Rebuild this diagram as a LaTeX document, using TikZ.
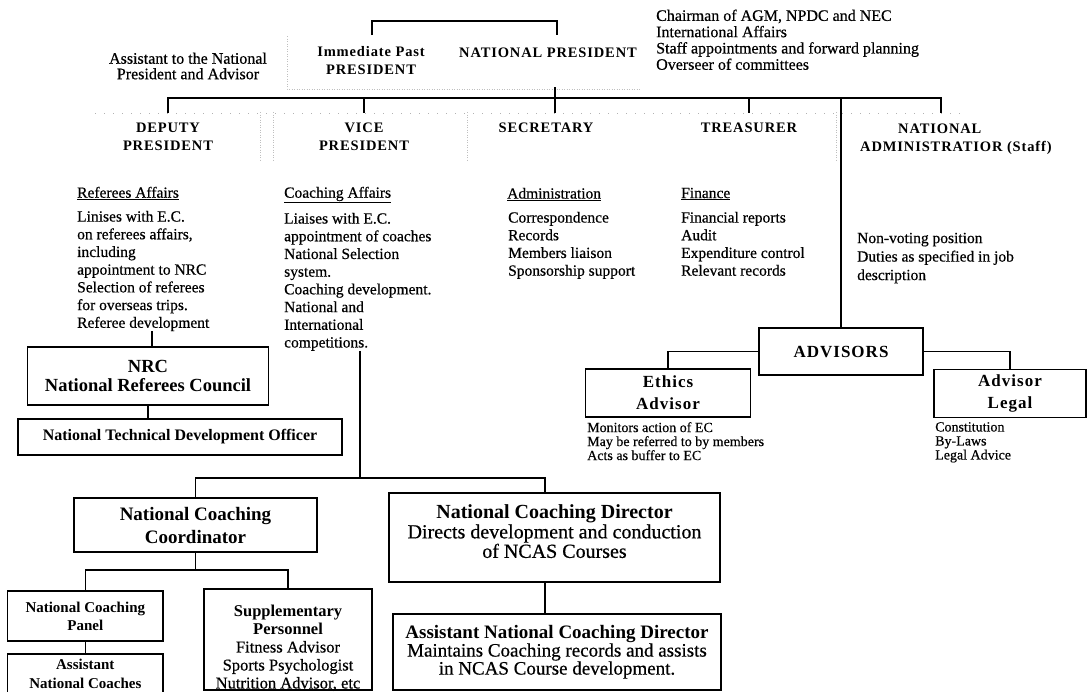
\documentclass[tikz,border=0pt]{standalone}
\usepackage{fontspec}
\setmainfont{Liberation Serif}[UprightFeatures={FakeBold=0.5}]
\newfontfamily\hdfont{Liberation Serif}[LetterSpace=6]
\begin{document}
\begin{tikzpicture}[x=1pt,y=-1pt,
  hd/.style={font=\hdfont\bfseries\fontsize{14.5}{18}\selectfont, align=center, inner sep=0pt},
  txt/.style={font=\fontsize{15.5}{17.7}\selectfont, align=left, inner sep=0pt, anchor=north west},
  box/.style={draw, line width=1.4pt, inner sep=0pt, align=center},
  boxhd/.style={font=\hdfont\bfseries\fontsize{17}{22}\selectfont},
  conn/.style={line width=1.2pt},
  heavy/.style={line width=2.4pt},
  faint/.style={draw=gray!50, line width=0.6pt, dash pattern=on 1pt off 1.5pt},
  sparse/.style={draw=gray!60, line width=0.6pt, dash pattern=on 1pt off 8pt},
]
\fill[white] (0,0) rectangle (1089,691);
\useasboundingbox (0,0) rectangle (1089,691);

% faint table gridlines of the scan
\draw[faint] (287,36) -- (287,89) -- (640,89);
\foreach \x in {260,273,467,836} \draw[faint] (\x,112) -- (\x,162);
\draw[sparse] (95,113) -- (960,113);

% top level
\node[txt, font=\fontsize{16}{15.5}\selectfont, anchor=center, align=center] (asst) at (188,66) {Assistant to the National\\President and Advisor};
\node[hd] (ipp) at (371,61) {Immediate Past\\PRESIDENT};
\node[hd] (np) at (548,53) {NATIONAL PRESIDENT};
\node[txt, font=\fontsize{16}{16.3}\selectfont] (npduty) at (656,9.4) {Chairman of AGM, NPDC and NEC\\International Affairs\\Staff appointments and forward planning\\Overseer of committees};

% executive row
\node[hd] (dp) at (168,137) {DEPUTY\\PRESIDENT};
\node[hd] (vp) at (364,137) {VICE\\PRESIDENT};
\node[hd] (sec) at (546,128) {SECRETARY};
\node[hd] (tre) at (749,128) {TREASURER};
\node[hd, anchor=north west, align=left] (na) at (860,123.2) {\hspace*{38pt}NATIONAL\\ADMINISTRATIOR (Staff)};

% duty lists
\node[txt] (dph) at (77,186.6) {\underline{Referees Affairs}};
\node[txt] (dpl) at (77,210.6) {Linises with E.C.\\on referees affairs,\\including\\appointment to NRC\\Selection of referees\\for overseas trips.\\Referee development};
\node[txt] (vph) at (284,186.6) {\underline{Coaching Affairs}};
\node[txt] (vpl) at (284,212.6) {Liaises with E.C.\\appointment of coaches\\National Selection\\system.\\Coaching development.\\National and\\International\\competitions.};
\node[txt] (sech) at (507,187.6) {\underline{Administration}};
\node[txt] (secl) at (508,211.6) {Correspondence\\Records\\Members liaison\\Sponsorship support};
\node[txt] (treh) at (681,187.6) {\underline{Finance}};
\node[txt] (trel) at (681,211.6) {Financial reports\\Audit\\Expenditure control\\Relevant records};
\node[txt, font=\fontsize{15.5}{18.5}\selectfont] (nal) at (857,232.6) {Non-voting position\\Duties as specified in job\\description};

% referees branch
\node[box, minimum width=241, minimum height=58, font=\bfseries\fontsize{18.5}{19.5}\selectfont] (nrc) at (148,376) {NRC\\National Referees Council};
\node[box, minimum width=324, minimum height=36, font=\bfseries\fontsize{16}{18}\selectfont] (ntdo) at (180,437) {National Technical Development Officer};

% coaching branch
\node[box, minimum width=243, minimum height=54, font=\bfseries\fontsize{19}{23}\selectfont] (ncc) at (195.5,525) {National Coaching\\Coordinator};
\node[box, minimum width=155.5, minimum height=50, font=\bfseries\fontsize{15}{18}\selectfont] (ncp) at (85.3,616) {National Coaching\\Panel};
\node[box, minimum width=155.5, minimum height=40, inner sep=0pt] (anc) at (85.3,674) {};
\node[font=\bfseries\fontsize{15}{19}\selectfont, align=center, inner sep=0pt] (anct) at (85.3,673.5) {Assistant\\National Coaches};
\node[box, minimum width=168, minimum height=101] (supp) at (288,639.5) {};
\node[font=\fontsize{16.5}{18}\selectfont, align=center, inner sep=0pt] (suppt) at (288,648) {\textbf{Supplementary}\\\textbf{Personnel}\\Fitness Advisor\\Sports Psychologist\\Nutrition Advisor, etc};
\node[box, minimum width=331, minimum height=89] (ncd) at (554.5,537.5) {};
\node[font=\fontsize{20}{19.5}\selectfont, align=center, inner sep=0pt] (ncdt) at (554.5,531.5) {\textbf{National Coaching Director}\\Directs development and conduction\\of NCAS Courses};
\node[box, minimum width=328, minimum height=76, font=\fontsize{19}{18}\selectfont] (ancd) at (557,652) {\textbf{Assistant National Coaching Director}\\Maintains Coaching records and assists\\in NCAS Course development.};

% advisors
\node[box, boxhd, minimum width=164, minimum height=47] (adv) at (841,351.5) {ADVISORS};
\node[box, boxhd, minimum width=165, minimum height=48] (eth) at (668,393) {Ethics\\Advisor};
\node[box, boxhd, minimum width=152, minimum height=48] (legal) at (1010,393.5) {Advisor\\Legal};
\node[txt, font=\fontsize{14}{14}\selectfont] (ethl) at (587,422) {Monitors action of EC\\May be referred to by members\\Acts as buffer to EC};
\node[txt, font=\fontsize{14}{14}\selectfont] (legl) at (935,422) {Constitution\\By-Laws\\Legal Advice};

% junction coordinates
\coordinate (brL) at (372,35);
\coordinate (brR) at (557,35);
\coordinate (npdrop) at (555,87);
\coordinate (bus) at (0,98);
\coordinate (natick) at (941,113);
\coordinate (dpdrop) at (152,0);
\coordinate (vpdrop) at (360,0);
\coordinate (b2) at (545,478);
\coordinate (b3) at (0,570);

% connectors
\draw[conn] (brL) -- ++(0,-14) -| (brR);
\draw[conn] (npdrop) -- (npdrop |- natick);
\draw[conn] ([yshift=10pt]dp.north) -- (dp.north |- bus) -- (bus -| natick) -- (natick);
\draw[conn] (vp.north |- bus) -- ([yshift=10pt]vp.north);
\draw[conn] (tre.north |- bus) -- ([yshift=10pt]tre.north);
\draw[heavy] (adv.north |- bus) -- (adv.north);
\draw[conn] (adv.west) -| (eth.north);
\draw[conn] (adv.east) -| (legal.north);
\draw[conn] (dpl.south -| dpdrop) -- (nrc.north -| dpdrop);
\draw[conn] (nrc.south) -- (nrc.south |- ntdo.north);
\draw[conn] (vpl.south -| vpdrop) -- (vpdrop |- b2);
\draw[conn] (ncc.north) |- (b2) -- (b2 |- ncd.north);
\draw[conn] (ncd.south -| b2) -- (ancd.north -| b2);
\draw[conn] (ncc.south) -- (ncc.south |- b3);
\draw[conn] (ncp.north) -- (ncp.north |- b3) -- (supp.north |- b3) -- (supp.north);
\draw[conn] (ncp.south) -- (anc.north);
\end{tikzpicture}
\end{document}
